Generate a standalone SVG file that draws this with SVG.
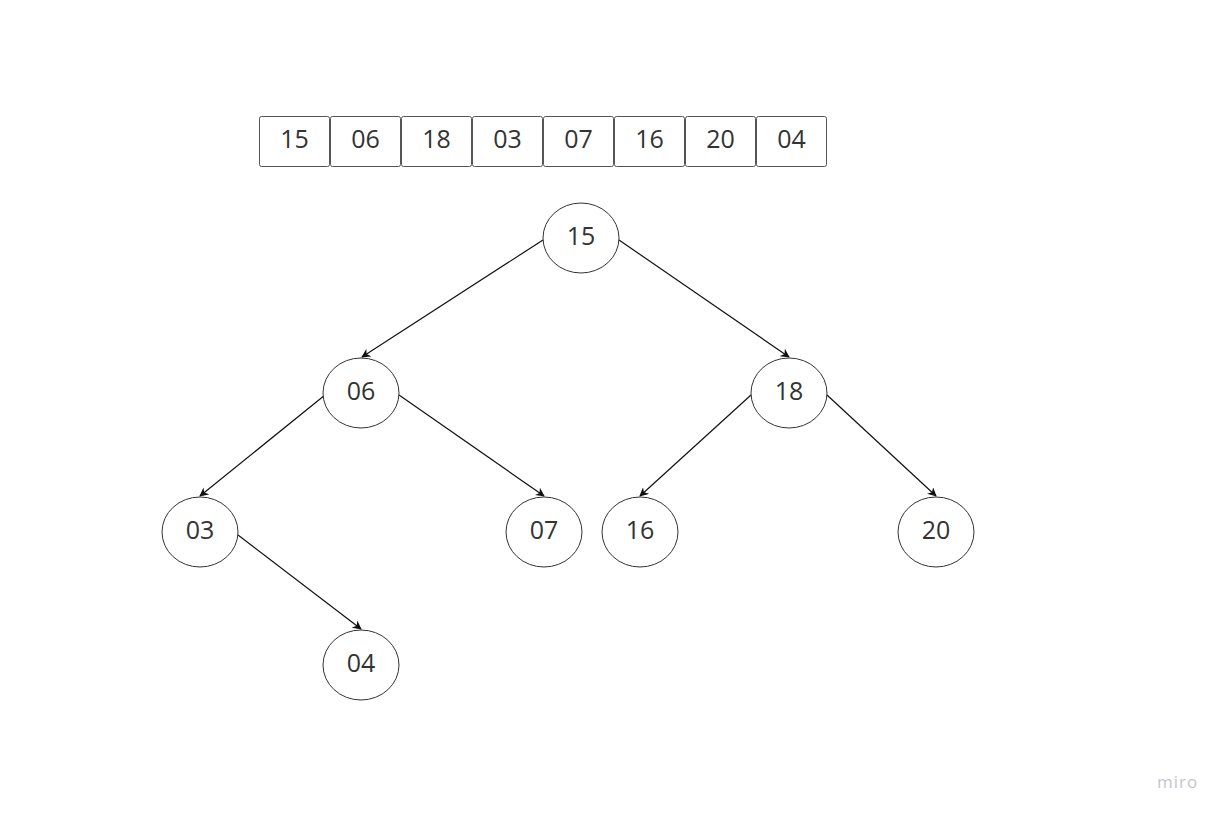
<svg xmlns="http://www.w3.org/2000/svg" width="1224" height="816" viewBox="0 0 1224 816">
  <style>
    .cell { fill: #ffffff; stroke: #555555; stroke-width: 1; }
    .node { fill: #ffffff; stroke: #333333; stroke-width: 1; }
    .lbl { font-family: "Open Sans", "Liberation Sans", sans-serif; font-size: 25px; fill: #333333; text-anchor: middle; dominant-baseline: central; }
    .edge { stroke: #111111; stroke-width: 1.2; fill: none; marker-end: url(#arrow); }
    .brand { font-family: "Open Sans", "Liberation Sans", sans-serif; font-size: 17px; fill: #c4c4cc; letter-spacing: 1px; }
  </style>
  <defs>
    <marker id="arrow" viewBox="0 0 10 10" refX="9" refY="5" markerWidth="9" markerHeight="9" markerUnits="userSpaceOnUse" orient="auto">
      <path d="M0,0 L10,5 L0,10 L3,5 Z" fill="#111111"/>
    </marker>
  </defs>
  <rect width="1224" height="816" fill="#ffffff"/>

  <!-- input array -->
  <g id="array">
    <rect class="cell" x="259.5" y="116.5" width="70" height="50" rx="2"/>
    <text class="lbl" x="294.5" y="138">15</text>
    <rect class="cell" x="330.5" y="116.5" width="70" height="50" rx="2"/>
    <text class="lbl" x="365.5" y="138">06</text>
    <rect class="cell" x="401.5" y="116.5" width="70" height="50" rx="2"/>
    <text class="lbl" x="436.5" y="138">18</text>
    <rect class="cell" x="472.5" y="116.5" width="70" height="50" rx="2"/>
    <text class="lbl" x="507.5" y="138">03</text>
    <rect class="cell" x="543.5" y="116.5" width="70" height="50" rx="2"/>
    <text class="lbl" x="578.5" y="138">07</text>
    <rect class="cell" x="614.5" y="116.5" width="70" height="50" rx="2"/>
    <text class="lbl" x="649.5" y="138">16</text>
    <rect class="cell" x="685.5" y="116.5" width="70" height="50" rx="2"/>
    <text class="lbl" x="720.5" y="138">20</text>
    <rect class="cell" x="756.5" y="116.5" width="70" height="50" rx="2"/>
    <text class="lbl" x="791.5" y="138">04</text>
  </g>

  <!-- tree edges -->
  <g id="edges">
    <line class="edge" x1="543" y1="240" x2="362" y2="357"/>
    <line class="edge" x1="619" y1="240" x2="789" y2="357"/>
    <line class="edge" x1="325" y1="395" x2="200" y2="496"/>
    <line class="edge" x1="399" y1="395" x2="544" y2="496"/>
    <line class="edge" x1="751" y1="395" x2="640" y2="496"/>
    <line class="edge" x1="827" y1="395" x2="936" y2="496"/>
    <line class="edge" x1="238" y1="535" x2="361" y2="629"/>
  </g>

  <!-- tree nodes -->
  <g id="n15"><ellipse class="node" cx="581" cy="238" rx="38" ry="35"/><text class="lbl" x="581" y="235">15</text></g>
  <g id="n06"><ellipse class="node" cx="361" cy="393" rx="38" ry="35"/><text class="lbl" x="361" y="390">06</text></g>
  <g id="n18"><ellipse class="node" cx="789" cy="393" rx="38" ry="35"/><text class="lbl" x="789" y="390">18</text></g>
  <g id="n03"><ellipse class="node" cx="200" cy="532" rx="38" ry="35"/><text class="lbl" x="200" y="529">03</text></g>
  <g id="n07"><ellipse class="node" cx="544" cy="532" rx="38" ry="35"/><text class="lbl" x="544" y="529">07</text></g>
  <g id="n16"><ellipse class="node" cx="640" cy="532" rx="38" ry="35"/><text class="lbl" x="640" y="529">16</text></g>
  <g id="n20"><ellipse class="node" cx="936" cy="532" rx="38" ry="35"/><text class="lbl" x="936" y="529">20</text></g>
  <g id="n04"><ellipse class="node" cx="361" cy="665" rx="38" ry="35"/><text class="lbl" x="361" y="662">04</text></g>

  <text class="brand" x="1157" y="788">miro</text>
</svg>
